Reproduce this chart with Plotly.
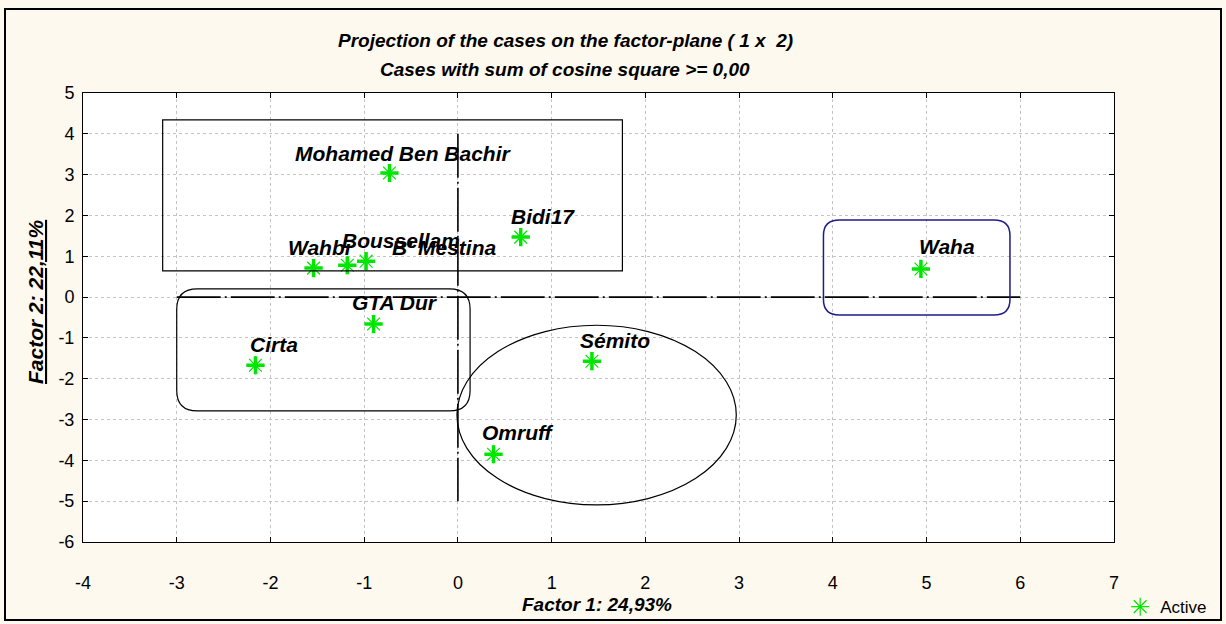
import plotly.graph_objects as go

# Case coordinates on the first factorial plane
cases = ["Mohamed Ben Bachir", "Bidi17", "Waha", "Wahbi", "Boussellam",
         "B' Mestina", "GTA Dur", "Cirta", "Sémito", "Omruff"]
factor1 = [-0.73, 0.67, 4.94, -1.54, -1.18, -0.98, -0.90, -2.16, 1.43, 0.38]
factor2 = [3.04, 1.47, 0.69, 0.71, 0.78, 0.88, -0.66, -1.67, -1.57, -3.85]

# Label offsets in pixels (left edge of text, vertical centre)
label_dx = [-96, -12, -4, -28, -7, 24, -24, -7, -14, -14]
label_dy = [20, 21, 22, 21, 25, 14, 22, 21, 21, 22]

x_ticks = list(range(-4, 8))
y_ticks = list(range(-6, 6))
x_ticktext = [str(v) for v in x_ticks]
y_ticktext = [str(v) for v in y_ticks]

GREEN = "#00E600"
FONT = "Liberation Sans"
DASH = "44px,4px,2px,4px"

fig = go.Figure()


def rounded_rect(x0, y0, x1, y1, rx, ry):
    return (f"M {x0+rx},{y0} L {x1-rx},{y0} Q {x1},{y0} {x1},{y0+ry} "
            f"L {x1},{y1-ry} Q {x1},{y1} {x1-rx},{y1} "
            f"L {x0+rx},{y1} Q {x0},{y1} {x0},{y1-ry} "
            f"L {x0},{y0+ry} Q {x0},{y0} {x0+rx},{y0} Z")


# Axis cross lines and group outlines
shapes = [
    dict(type="line", x0=-3.0, x1=6.0, y0=0, y1=0,
         line=dict(color="black", width=1.6, dash=DASH)),
    dict(type="line", x0=0, x1=0, y0=4.0, y1=-5.0,
         line=dict(color="black", width=1.6, dash=DASH)),
    dict(type="rect", x0=-3.15, x1=1.755, y0=0.64, y1=4.34,
         line=dict(color="black", width=1.2)),
    dict(type="path", path=rounded_rect(-3.0, -2.79, 0.13, 0.2, 0.22, 0.5),
         line=dict(color="black", width=1.2)),
    dict(type="circle", x0=-0.01, x1=2.97, y0=-5.09, y1=-0.69,
         line=dict(color="black", width=1.2)),
    dict(type="path", path=rounded_rect(3.9, -0.44, 5.89, 1.89, 0.17, 0.38),
         line=dict(color="#1C1C8A", width=1.5)),
]

fig.add_trace(go.Scatter(
    x=factor1, y=factor2, mode="markers", name="Active",
    marker=dict(symbol="asterisk-open", size=15, color=GREEN,
                line=dict(color=GREEN, width=1.2)),
    hovertext=cases, hoverinfo="text",
))
fig.add_trace(go.Scatter(
    x=factor1, y=factor2, mode="markers", showlegend=False, hoverinfo="skip",
    marker=dict(symbol="cross-thin-open", size=13, color=GREEN,
                line=dict(color=GREEN, width=3.5)),
))

annotations = []
for name, x, y, dx, dy in zip(cases, factor1, factor2, label_dx, label_dy):
    annotations.append(dict(
        x=x, y=y, text=f"<b><i>{name}</i></b>", showarrow=False,
        xanchor="left", yanchor="middle", xshift=dx, yshift=dy,
        font=dict(family=FONT, size=21, color="black")))

annotations += [
    dict(x=(565 - 83) / 1031, y=1 + (93 - 40) / 449, xref="paper", yref="paper",
         xanchor="center", yanchor="middle",
         text="<b><i>Projection of the cases on the factor-plane ( 1 x  2)</i></b>",
         showarrow=False, font=dict(family=FONT, size=19, color="black")),
    dict(x=(565 - 83) / 1031, y=1 + (93 - 69) / 449, xref="paper", yref="paper",
         xanchor="center", yanchor="middle",
         text="<b><i>Cases with sum of cosine square >= 0,00</i></b>",
         showarrow=False, font=dict(family=FONT, size=19, color="black")),
    dict(x=(597 - 83) / 1031, y=-(604 - 542) / 449, xref="paper", yref="paper",
         xanchor="center", yanchor="middle",
         text="<b><i>Factor 1: 24,93%</i></b>",
         showarrow=False, font=dict(family=FONT, size=19, color="black")),
    dict(x=-(83 - 35) / 1031, y=(542 - 302) / 449, xref="paper", yref="paper",
         xanchor="center", yanchor="middle",
         text="<b><i><u>Factor 2: 22,11%</u></i></b>", textangle=-90,
         showarrow=False, font=dict(family=FONT, size=21, color="black")),
]

axis_common = dict(
    showline=True, linecolor="black", linewidth=1, mirror="allticks",
    ticks="inside", ticklen=5, tickcolor="black", automargin=False,
    showgrid=True, gridcolor="#C4C4C4", griddash="dot", gridwidth=1,
    zeroline=False, tickfont=dict(family=FONT, size=18, color="black"),
    minor=dict(ticks="inside", ticklen=3, tickcolor="black", nticks=4, showgrid=False),
)

fig.update_layout(
    width=1226, height=624,
    margin=dict(l=83, r=112, t=93, b=82, autoexpand=False),
    paper_bgcolor="#FEF9EE", plot_bgcolor="white",
    shapes=shapes + [
        dict(type="rect", xref="paper", yref="paper",
             x0=-(83 - 5) / 1031, x1=1 + (1221 - 1114) / 1031,
             y0=-(620 - 542) / 449, y1=1 + (93 - 9) / 449,
             line=dict(color="black", width=2), layer="below"),
    ],
    annotations=annotations,
    xaxis=dict(range=[-4, 7], tickvals=x_ticks, ticktext=x_ticktext,
               ticklabelstandoff=24, **axis_common),
    yaxis=dict(range=[-6, 5], tickvals=y_ticks, ticktext=y_ticktext,
               ticklabelstandoff=4, **axis_common),
    legend=dict(x=1.006, y=-0.145, xanchor="left", yanchor="middle",
                bgcolor="rgba(0,0,0,0)", font=dict(family=FONT, size=17, color="black")),
    showlegend=True,
)

fig.write_html("out.html")
